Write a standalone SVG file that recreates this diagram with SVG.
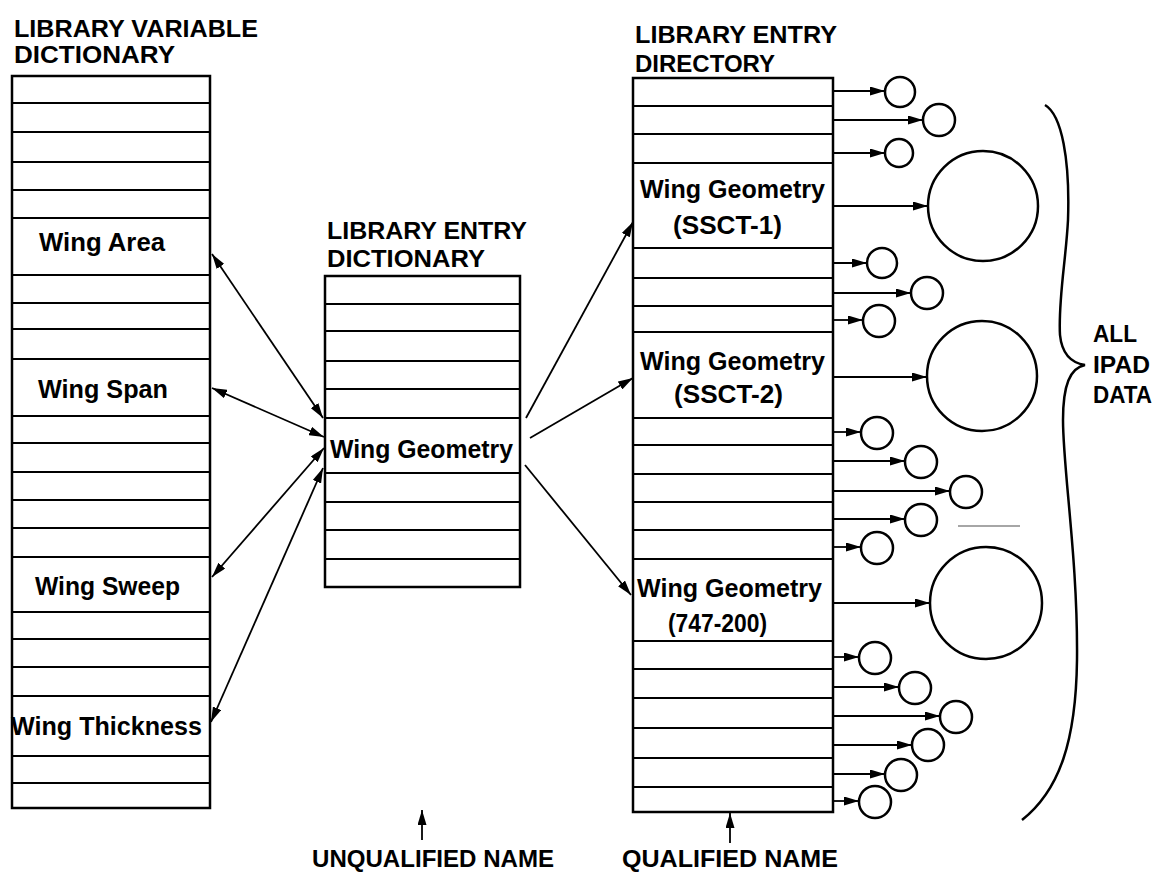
<svg xmlns="http://www.w3.org/2000/svg" width="1161" height="873" viewBox="0 0 1161 873">
<style>
.box{fill:#fff;stroke:#000;stroke-width:2.5}
.row{stroke:#000;stroke-width:1.8;fill:none}
.t{font-family:"Liberation Sans",Arial,sans-serif;font-weight:bold;font-size:25px;fill:#000}
.h{font-family:"Liberation Sans",Arial,sans-serif;font-weight:bold;font-size:24px;fill:#000}
.ln{stroke:#000;stroke-width:1.8;fill:none}
.dbl{marker-start:url(#ah);marker-end:url(#ah)}
.one{marker-end:url(#ah)}
.cir{fill:#fff;stroke:#000;stroke-width:2.5}
</style>
<defs>
<marker id="ah" markerUnits="userSpaceOnUse" markerWidth="16" markerHeight="9" refX="15" refY="4.5" orient="auto-start-reverse">
<path d="M0,0 L15,4.5 L0,9 Z" fill="#000"/>
</marker>
</defs>

<g id="lvd">
<text class="h" x="14" y="37" textLength="244" lengthAdjust="spacingAndGlyphs">LIBRARY VARIABLE</text>
<text class="h" x="14" y="63" textLength="161" lengthAdjust="spacingAndGlyphs">DICTIONARY</text>
<rect class="box" x="12" y="76" width="198" height="732"/>
<path class="row" d="M12,103H210M12,132H210M12,162H210M12,190H210M12,218H210M12,275H210M12,303H210M12,329H210M12,359H210M12,416H210M12,443H210M12,472H210M12,500H210M12,528H210M12,557H210M12,612H210M12,639H210M12,667H210M12,696H210M12,756H210M12,783H210"/>
<text class="t" x="39" y="251" textLength="126" lengthAdjust="spacingAndGlyphs">Wing Area</text>
<text class="t" x="38" y="398" textLength="130" lengthAdjust="spacingAndGlyphs">Wing Span</text>
<text class="t" x="35" y="595" textLength="145" lengthAdjust="spacingAndGlyphs">Wing Sweep</text>
<text class="t" x="11" y="735" textLength="191" lengthAdjust="spacingAndGlyphs">Wing Thickness</text>
</g>

<g id="led">
<text class="h" x="327" y="239" textLength="200" lengthAdjust="spacingAndGlyphs">LIBRARY ENTRY</text>
<text class="h" x="327" y="267" textLength="158" lengthAdjust="spacingAndGlyphs">DICTIONARY</text>
<rect class="box" x="325" y="276" width="195" height="311"/>
<path class="row" d="M325,304H520M325,331H520M325,361H520M325,389H520M325,418H520M325,473H520M325,502H520M325,530H520M325,559H520"/>
<text class="t" x="330" y="458" textLength="183" lengthAdjust="spacingAndGlyphs">Wing Geometry</text>
</g>

<g id="ledir">
<text class="h" x="635" y="43" textLength="202" lengthAdjust="spacingAndGlyphs">LIBRARY ENTRY</text>
<text class="h" x="635" y="72" textLength="140" lengthAdjust="spacingAndGlyphs">DIRECTORY</text>
<rect class="box" x="633" y="78" width="200" height="734"/>
<path class="row" d="M633,106H833M633,134H833M633,163H833M633,248H833M633,278H833M633,306H833M633,332H833M633,418H833M633,445H833M633,474H833M633,502H833M633,530H833M633,559H833M633,641H833M633,669H833M633,698H833M633,728H833M633,758H833M633,787H833"/>
<text class="t" x="640" y="198" textLength="185" lengthAdjust="spacingAndGlyphs">Wing Geometry</text>
<text class="t" x="673" y="234" textLength="109" lengthAdjust="spacingAndGlyphs">(SSCT-1)</text>
<text class="t" x="640" y="370" textLength="185" lengthAdjust="spacingAndGlyphs">Wing Geometry</text>
<text class="t" x="674" y="403" textLength="109" lengthAdjust="spacingAndGlyphs">(SSCT-2)</text>
<text class="t" x="637" y="597" textLength="185" lengthAdjust="spacingAndGlyphs">Wing Geometry</text>
<text class="t" x="668" y="632" textLength="99" lengthAdjust="spacingAndGlyphs">(747-200)</text>
</g>

<g id="c1"><circle class="cir" cx="900" cy="92" r="15"/></g>
<g id="c2"><circle class="cir" cx="939" cy="120" r="16"/></g>
<g id="c3"><circle class="cir" cx="899" cy="153" r="14"/></g>
<g id="c4"><circle class="cir" cx="983" cy="206" r="55"/></g>
<g id="c5"><circle class="cir" cx="882" cy="263" r="15"/></g>
<g id="c6"><circle class="cir" cx="927" cy="293" r="16"/></g>
<g id="c7"><circle class="cir" cx="879" cy="321" r="16"/></g>
<g id="c8"><circle class="cir" cx="982" cy="376" r="55"/></g>
<g id="c9"><circle class="cir" cx="877" cy="433" r="16"/></g>
<g id="c10"><circle class="cir" cx="921" cy="462" r="16"/></g>
<g id="c11"><circle class="cir" cx="966" cy="492" r="16"/></g>
<g id="c12"><circle class="cir" cx="921" cy="520" r="16"/></g>
<g id="c13"><circle class="cir" cx="877" cy="548" r="16"/></g>
<g id="c14"><circle class="cir" cx="986" cy="603" r="56"/></g>
<g id="c15"><circle class="cir" cx="875" cy="658" r="16"/></g>
<g id="c16"><circle class="cir" cx="915" cy="688" r="16"/></g>
<g id="c17"><circle class="cir" cx="956" cy="717" r="16"/></g>
<g id="c18"><circle class="cir" cx="928" cy="745" r="16"/></g>
<g id="c19"><circle class="cir" cx="901" cy="775" r="16"/></g>
<g id="c20"><circle class="cir" cx="875" cy="802" r="16"/></g>

<g id="alldata">
<path d="M1045,105 C1062,115 1070,160 1068,220 C1066,260 1058,300 1060,335 C1062,355 1072,363 1085,365 C1070,368 1063,385 1063,420 C1063,470 1078,560 1077,660 C1076,740 1060,790 1022,820" fill="none" stroke="#000" stroke-width="2.5"/>
<text class="h" x="1093" y="342" textLength="44" lengthAdjust="spacingAndGlyphs">ALL</text>
<text class="h" x="1093" y="373" textLength="57" lengthAdjust="spacingAndGlyphs">IPAD</text>
<text class="h" x="1093" y="403" textLength="59" lengthAdjust="spacingAndGlyphs">DATA</text>
</g>

<g id="labels">
<text class="h" x="312" y="867" textLength="242" lengthAdjust="spacingAndGlyphs">UNQUALIFIED NAME</text>
<text class="h" x="622" y="867" textLength="216" lengthAdjust="spacingAndGlyphs">QUALIFIED NAME</text>
</g>

<line x1="958" y1="526" x2="1020" y2="526" stroke="#888" stroke-width="1.5"/>

<g id="connectors">
<line class="ln dbl" x1="212" y1="254" x2="323" y2="418"/>
<line class="ln dbl" x1="212" y1="388" x2="324" y2="437"/>
<line class="ln dbl" x1="212" y1="577" x2="324" y2="448"/>
<line class="ln dbl" x1="211" y1="722" x2="323" y2="468"/>
<line class="ln one" x1="526" y1="418" x2="633" y2="222"/>
<line class="ln one" x1="530" y1="438" x2="633" y2="378"/>
<line class="ln one" x1="525" y1="465" x2="631" y2="595"/>
<line class="ln one" x1="422" y1="840" x2="422" y2="810"/>
<line class="ln one" x1="730" y1="843" x2="730" y2="813"/>
<line class="ln one" x1="834" y1="91" x2="885" y2="91"/>
<line class="ln one" x1="834" y1="120" x2="923" y2="120"/>
<line class="ln one" x1="834" y1="153" x2="885" y2="153"/>
<line class="ln one" x1="834" y1="206" x2="928" y2="206"/>
<line class="ln one" x1="834" y1="263" x2="867" y2="263"/>
<line class="ln one" x1="834" y1="293" x2="911" y2="293"/>
<line class="ln one" x1="834" y1="320" x2="863" y2="320"/>
<line class="ln one" x1="834" y1="377" x2="927" y2="377"/>
<line class="ln one" x1="834" y1="432" x2="861" y2="432"/>
<line class="ln one" x1="834" y1="461" x2="905" y2="461"/>
<line class="ln one" x1="834" y1="491" x2="950" y2="491"/>
<line class="ln one" x1="834" y1="519" x2="905" y2="519"/>
<line class="ln one" x1="834" y1="547" x2="861" y2="547"/>
<line class="ln one" x1="834" y1="603" x2="930" y2="603"/>
<line class="ln one" x1="834" y1="657" x2="859" y2="657"/>
<line class="ln one" x1="834" y1="687" x2="899" y2="687"/>
<line class="ln one" x1="834" y1="716" x2="940" y2="716"/>
<line class="ln one" x1="834" y1="745" x2="912" y2="745"/>
<line class="ln one" x1="834" y1="774" x2="885" y2="774"/>
<line class="ln one" x1="834" y1="801" x2="859" y2="801"/>
</g>
</svg>
